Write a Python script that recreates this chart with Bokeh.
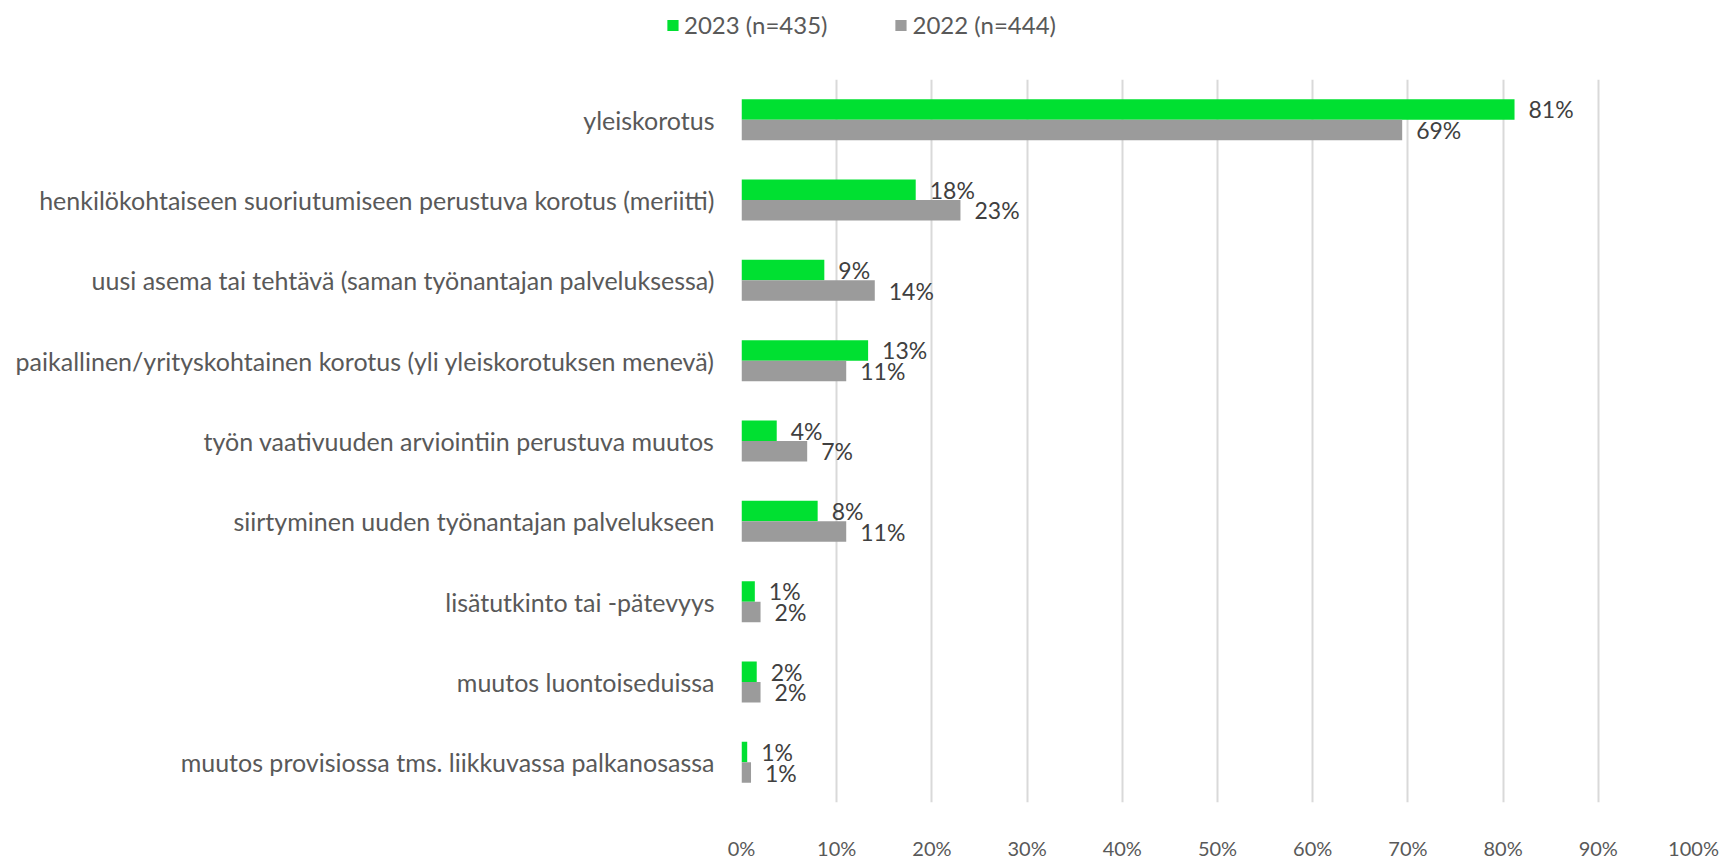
from bokeh.plotting import figure
from bokeh.models import (ColumnDataSource, FactorRange, Range1d, PrintfTickFormatter,
                          FixedTicker, Legend, LegendItem)
from bokeh.transform import dodge
from bokeh.core.properties import value
from bokeh.embed import file_html
from bokeh.resources import INLINE

categories = [
    "yleiskorotus",
    "henkilökohtaiseen suoriutumiseen perustuva korotus (meriitti)",
    "uusi asema tai tehtävä (saman työnantajan palveluksessa)",
    "paikallinen/yrityskohtainen korotus (yli yleiskorotuksen menevä)",
    "työn vaativuuden arviointiin perustuva muutos",
    "siirtyminen uuden työnantajan palvelukseen",
    "lisätutkinto tai -pätevyys",
    "muutos luontoiseduissa",
    "muutos provisiossa tms. liikkuvassa palkanosassa",
]
values_2023 = [81.2, 18.3, 8.7, 13.3, 3.7, 8.0, 1.4, 1.6, 0.6]
values_2022 = [69.4, 23.0, 14.0, 11.0, 6.9, 11.0, 2.0, 2.0, 1.0]
series_names = ["2023 (n=435)", "2022 (n=444)"]
x_ticks = [0, 10, 20, 30, 40, 50, 60, 70, 80, 90, 100]

FONT = "Lato"
FS_CAT = "25px"
FS_TICK = "20px"
FS_LAB = "23px"
FS_LEG = "24px"
GREEN = "#00E031"
GRAY = "#9B9B9B"
W = 1721

src = ColumnDataSource(dict(
    cat=categories,
    v23=values_2023,
    v22=values_2022,
    l23=[f"{round(v)}%" for v in values_2023],
    l22=[f"{round(v)}%" for v in values_2022],
))

# ---- legend strip on top (its x range lies left of the data, so only the legend shows) ----
lg = figure(width=W, height=79, output_backend="svg", toolbar_location=None,
            x_range=Range1d(-2, -1), y_range=FactorRange(*categories),
            x_axis_type=None, y_axis_type=None,
            min_border_left=0, min_border_right=0, min_border_top=0, min_border_bottom=0)
lg.outline_line_color = None
lg.xgrid.visible = False
lg.ygrid.visible = False
d23 = lg.hbar(y="cat", right="v23", left=0, height=0.25, source=src,
              fill_color=GREEN, line_color=None)
d22 = lg.hbar(y="cat", right="v22", left=0, height=0.25, source=src,
              fill_color=GRAY, line_color=None)
legend = Legend(items=[LegendItem(label=series_names[0], renderers=[d23]),
                       LegendItem(label=series_names[1], renderers=[d22])],
                orientation="horizontal", location="top_center",
                border_line_color=None, background_fill_alpha=0,
                label_text_font=FONT, label_text_font_size=FS_LEG, label_text_color="#595959",
                glyph_width=14, glyph_height=14, label_standoff=5, spacing=66,
                padding=0, margin=10)
lg.add_layout(legend, "center")

# ---- main chart ----
p = figure(width=W, height=783, output_backend="svg", toolbar_location=None,
           y_range=FactorRange(*categories[::-1], range_padding=0),
           x_range=Range1d(0, 100),
           min_border_left=741, min_border_right=W - 1693, min_border_top=0,
           min_border_bottom=42)
p.outline_line_color = None
p.background_fill_color = "white"

bw = 0.255
off = 0.1275
r23 = p.hbar(y=dodge("cat", off, range=p.y_range), right="v23", left=0, height=bw,
             source=src, fill_color=GREEN, line_color=None)
r22 = p.hbar(y=dodge("cat", -off, range=p.y_range), right="v22", left=0, height=bw,
             source=src, fill_color=GRAY, line_color=None)

p.text(x="v23", y=dodge("cat", off, range=p.y_range), text="l23", source=src,
       x_offset=14, text_align="left", text_baseline="middle",
       text_font=value(FONT), text_font_size=value(FS_LAB), text_color="#404040")
p.text(x="v22", y=dodge("cat", -off, range=p.y_range), text="l22", source=src,
       x_offset=14, text_align="left", text_baseline="middle",
       text_font=value(FONT), text_font_size=value(FS_LAB), text_color="#404040")

p.xaxis.ticker = FixedTicker(ticks=x_ticks)
p.xaxis.formatter = PrintfTickFormatter(format="%d%%")
for ax in (p.xaxis[0], p.yaxis[0]):
    ax.axis_line_color = None
    ax.major_tick_line_color = None
    ax.minor_tick_line_color = None
    ax.major_label_text_font = FONT
    ax.major_label_text_color = "#595959"
p.xaxis.major_label_text_font_size = FS_TICK
p.yaxis.major_label_text_font_size = FS_CAT
p.xaxis.major_label_standoff = 27
p.yaxis.major_label_standoff = 21

p.xgrid.grid_line_color = "#D9D9D9"
p.xgrid.grid_line_width = 2
p.ygrid.grid_line_color = None

open("out.html", "w").write(file_html([lg, p], INLINE))
